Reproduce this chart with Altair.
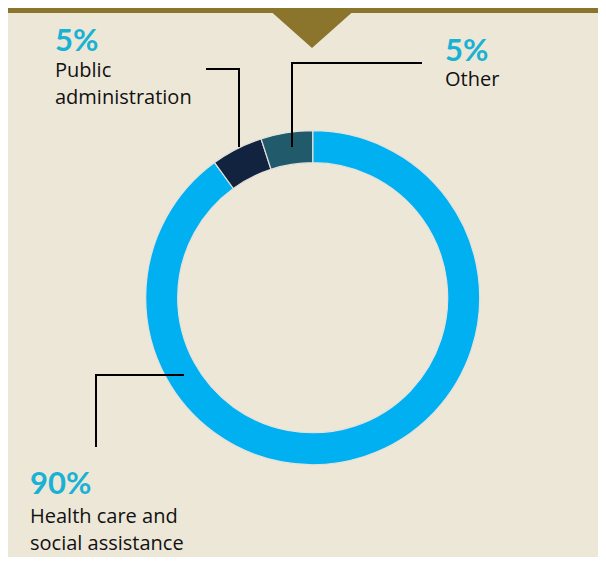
import altair as alt
import pandas as pd

# ---- data ----
categories = ["Health care and social assistance", "Public administration", "Other"]
shares = [90, 5, 5]
pct_labels = ["90%", "5%", "5%"]
name_lines = [["Health care and", "social assistance"], ["Public", "administration"], ["Other"]]

# ---- style / layout ----
colors = ["#00B0F0", "#12233F", "#215A6A"]
BG = "#EDE7D8"
GOLD = "#8B742C"
PCT_COLOR = "#19B2D4"
PCT_FONT = "Lato"
FONT = "Open Sans"
W, H = 590, 549
OFF = 8  # page margin
CX, CY = 312.7 - OFF, 297.7 - OFF
R_OUT, R_IN = 167, 135

# label anchors (screen coords): pct baseline, text line baselines
label_pos = {
    "Health care and social assistance": (30, 494, [523, 550]),
    "Public administration": (55, 51, [77, 104]),
    "Other": (445, 61, [86]),
}
leader_pts = {
    "Health care and social assistance": [(183, 375), (96, 375), (96, 446)],
    "Public administration": [(207, 69), (239, 69), (239, 146)],
    "Other": [(421, 63), (292, 63), (292, 146)],
}

donut_df = pd.DataFrame({"category": categories, "share": shares, "order": list(range(len(categories)))})

pct_rows, name_rows, lead_rows = [], [], []
for cat, pct, lines in zip(categories, pct_labels, name_lines):
    lx, py, lys = label_pos[cat]
    pct_rows.append({"x": lx - OFF, "y": py - OFF, "t": pct})
    for ln, ly in zip(lines, lys):
        name_rows.append({"x": lx - OFF, "y": ly - OFF, "t": ln})
    for i, (px, pyy) in enumerate(leader_pts[cat]):
        lead_rows.append({"cat": cat, "i": i, "x": px - OFF, "y": pyy - OFF})

pct_df = pd.DataFrame(pct_rows)
name_df = pd.DataFrame(name_rows)
lead_df = pd.DataFrame(lead_rows)
one = pd.DataFrame({"a": [0]})

xs = alt.X("x:Q", scale=None, axis=None)
ys = alt.Y("y:Q", scale=None, axis=None)

top_bar = alt.Chart(one).mark_rect(color=GOLD).encode(
    x=alt.value(0), x2=alt.value(W), y=alt.value(0), y2=alt.value(5)
)
tri = alt.Chart(one).mark_point(
    shape="M -1 -0.444 L 1 -0.444 L 0 0.444 Z", size=8100, filled=True, color=GOLD, opacity=1, strokeWidth=0
).encode(x=alt.value(312 - OFF), y=alt.value(20))

donut = alt.Chart(donut_df).mark_arc(
    outerRadius=R_OUT, innerRadius=R_IN, stroke="#E4E2DC", strokeWidth=1.2
).encode(
    theta=alt.Theta("share:Q", stack=True),
    color=alt.Color("category:N", scale=alt.Scale(domain=categories, range=colors), legend=None),
    order=alt.Order("order:Q"),
    x=alt.value(CX),
    y=alt.value(CY),
)

leaders = alt.Chart(lead_df).mark_line(color="#000000", strokeWidth=2, strokeCap="square").encode(
    x=xs, y=ys, detail="cat:N", order="i:Q"
)

pct_text = alt.Chart(pct_df).mark_text(
    align="left", baseline="alphabetic", font=PCT_FONT, fontSize=31, fontWeight="bold", color=PCT_COLOR
).encode(x=xs, y=ys, text="t:N")

name_text = alt.Chart(name_df).mark_text(
    align="left", baseline="alphabetic", font=FONT, fontSize=20, color="#111111"
).encode(x=xs, y=ys, text="t:N")

chart = alt.layer(top_bar, tri, donut, leaders, pct_text, name_text).properties(
    width=W, height=H, background=BG, padding=0, autosize=alt.AutoSizeParams(type="none")
).configure_view(stroke=None)

chart.save("out.html", embed_options={"renderer": "svg", "actions": False})
